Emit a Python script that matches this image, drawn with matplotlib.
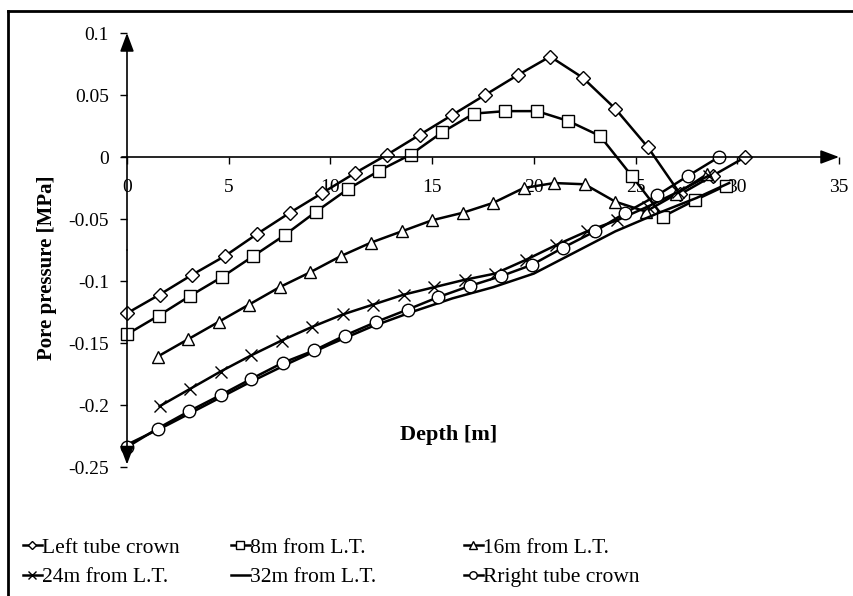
import matplotlib
matplotlib.use('Agg')
import matplotlib.pyplot as plt
from matplotlib.lines import Line2D

plt.rcParams['font.family'] = ['Liberation Serif', 'DejaVu Serif']

# data
xLeft = [0, 1.6, 3.2, 4.8, 6.4, 8.0, 9.6, 11.2, 12.8, 14.4, 16.0, 17.6, 19.2, 20.8,
         22.4, 24.0, 25.6, 27.2, 28.8, 30.4]
yLeft = [-0.126, -0.111, -0.095, -0.080, -0.062, -0.045, -0.029, -0.013, 0.002, 0.018,
         0.034, 0.050, 0.066, 0.081, 0.064, 0.039, 0.008, -0.030, -0.015, 0.0]

x8 = [0, 1.55, 3.1, 4.65, 6.2, 7.75, 9.3, 10.85, 12.4, 13.95, 15.5, 17.05, 18.6, 20.15,
      21.7, 23.25, 24.8, 26.35, 27.9, 29.45]
y8 = [-0.143, -0.128, -0.112, -0.097, -0.080, -0.063, -0.044, -0.026, -0.011, 0.002,
      0.020, 0.035, 0.037, 0.037, 0.029, 0.017, -0.015, -0.048, -0.035, -0.023]

x16 = [1.5, 3.0, 4.5, 6.0, 7.5, 9.0, 10.5, 12.0, 13.5, 15.0, 16.5, 18.0, 19.5, 21.0,
       22.5, 24.0, 25.5, 27.0, 28.5]
y16 = [-0.161, -0.147, -0.133, -0.119, -0.105, -0.093, -0.080, -0.069, -0.060, -0.051,
       -0.045, -0.037, -0.025, -0.021, -0.022, -0.036, -0.044, -0.030, -0.014]

x24 = [1.6, 3.1, 4.6, 6.1, 7.6, 9.1, 10.6, 12.1, 13.6, 15.1, 16.6, 18.1, 19.6, 21.1,
       22.6, 24.1, 25.6, 27.1, 28.6]
y24 = [-0.201, -0.187, -0.173, -0.160, -0.148, -0.137, -0.127, -0.119, -0.111, -0.105,
       -0.099, -0.094, -0.083, -0.071, -0.060, -0.051, -0.040, -0.028, -0.015]

x32 = [0, 2, 4, 6, 8, 10, 12, 14, 16, 18, 20, 22, 24, 26, 28, 29.6]
y32 = [-0.232, -0.216, -0.199, -0.182, -0.166, -0.151, -0.137, -0.125, -0.114, -0.105,
       -0.094, -0.077, -0.060, -0.046, -0.033, -0.021]

xRight = [0, 1.5, 3.05, 4.6, 6.1, 7.65, 9.2, 10.7, 12.25, 13.8, 15.3, 16.85, 18.4, 19.9,
          21.45, 23.0, 24.5, 26.05, 27.6, 29.1]
yRight = [-0.234, -0.219, -0.205, -0.192, -0.179, -0.166, -0.156, -0.144, -0.133, -0.123,
          -0.113, -0.104, -0.096, -0.087, -0.073, -0.060, -0.045, -0.031, -0.015, 0.0]

labels = ['Left tube crown', '8m from L.T.', '16m from L.T.',
          '24m from L.T.', '32m from L.T.', 'Rright tube crown']

fig = plt.figure(figsize=(8.54, 5.96), dpi=100)
ax = fig.add_axes([127 / 854, 1 - 467 / 596, 712 / 854, 434 / 596])

lw = 1.8
style = dict(color='black', lw=lw, markerfacecolor='white', markeredgecolor='black',
             markeredgewidth=1.0, clip_on=False)
lines = []
lines += ax.plot(xLeft, yLeft, marker='D', markersize=7, label=labels[0], **style)
lines += ax.plot(x8, y8, marker='s', markersize=9, label=labels[1], **style)
lines += ax.plot(x16, y16, marker='^', markersize=9, label=labels[2], **style)
lines += ax.plot(x24, y24, marker='x', markersize=9, label=labels[3], **style)
lines += ax.plot(x32, y32, label=labels[4], **style)
lines += ax.plot(xRight, yRight, marker='o', markersize=9, label=labels[5], **style)

ax.set_xlim(0, 35)
ax.set_ylim(-0.25, 0.1)
ax.set_xticks([0, 5, 10, 15, 20, 25, 30, 35])
ax.set_yticks([0.1, 0.05, 0, -0.05, -0.1, -0.15, -0.2, -0.25])
ax.set_yticklabels(['0.1', '0.05', '0', '-0.05', '-0.1', '-0.15', '-0.2', '-0.25'])
ax.spines['left'].set_position(('data', 0))
ax.spines['bottom'].set_position(('data', 0))
for s in ax.spines.values():
    s.set_visible(False)
ax.tick_params(axis='both', direction='out', length=5, width=1, labelsize=14)
ax.tick_params(axis='x', pad=11)
ax.tick_params(axis='y', pad=8)
ax.patch.set_alpha(0)

arrow = dict(arrowstyle='-|>,head_length=0.8,head_width=0.3', color='black', lw=1.2,
             mutation_scale=14, shrinkA=0, shrinkB=0)
ax.annotate('', xy=(35, 0), xytext=(-0.25, 0), arrowprops=arrow, annotation_clip=False)
ax.annotate('', xy=(0, 0.1), xytext=(0, -0.075), arrowprops=arrow, annotation_clip=False)
ax.annotate('', xy=(0, -0.248), xytext=(0, -0.075), arrowprops=arrow, annotation_clip=False)

fig.text(449 / 854, 1 - 435 / 596, 'Depth [m]', ha='center', va='center',
         fontsize=16, fontweight='bold')
fig.text(47 / 854, 1 - 268 / 596, 'Pore pressure [MPa]', ha='center', va='center',
         rotation=90, fontsize=15, fontweight='bold')

# legend, three columns of two rows
colX = [14 / 854, 222 / 854, 455 / 854]
for c in range(3):
    leg = fig.legend([lines[c], lines[c + 3]], [labels[c], labels[c + 3]],
                     loc='upper left', bbox_to_anchor=(colX[c], 1 - 529 / 596),
                     frameon=False, fontsize=15.5, handlelength=0.9, handletextpad=0.0,
                     markerscale=0.6, labelspacing=0.45, borderaxespad=0)
    for h in leg.legend_handles:
        h.set_linewidth(1.8)

# outer frame: top and left edges
fig.add_artist(Line2D([8 / 854, 1], [1 - 11 / 596, 1 - 11 / 596], color='black', lw=2,
                      transform=fig.transFigure))
fig.add_artist(Line2D([8 / 854, 8 / 854], [0, 1 - 11 / 596], color='black', lw=2,
                      transform=fig.transFigure))

fig.savefig('out.png', dpi=100)
